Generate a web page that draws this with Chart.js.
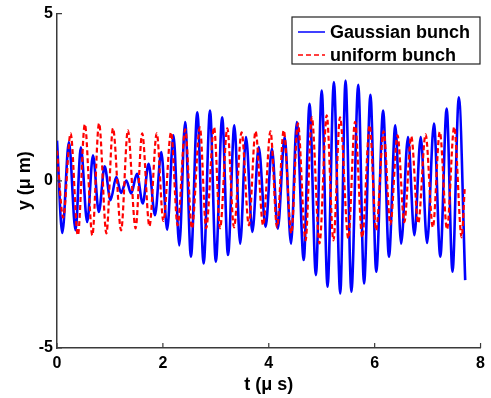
<!DOCTYPE html>
<html>
<head>
<meta charset="utf-8">
<script src="https://cdn.jsdelivr.net/npm/chart.js@4/dist/chart.umd.min.js"></script>
<style>
  html, body { margin: 0; padding: 0; background: #fff; }
  #wrap { width: 491px; height: 398px; }
</style>
</head>
<body>
<div id="wrap"><canvas id="c" width="491" height="398"></canvas></div>
<script>
// extrema (t in µs, y in µm)
const gaussT = [0, 0.10, 0.225, 0.35, 0.45, 0.57, 0.68, 0.79, 0.90, 1.01, 1.12, 1.21, 1.31, 1.40, 1.51, 1.62,
  1.73, 1.85, 1.97, 2.08, 2.20, 2.31, 2.42, 2.53, 2.65, 2.77, 2.89, 3.00, 3.12, 3.23, 3.35, 3.46,
  3.57, 3.69, 3.81, 3.94, 4.06, 4.17, 4.30, 4.42, 4.53, 4.66, 4.77, 4.89, 5.00, 5.11, 5.23, 5.35,
  5.45, 5.56, 5.69, 5.80, 5.92, 6.03, 6.16, 6.27, 6.39, 6.50, 6.63, 6.75, 6.87, 6.99, 7.12, 7.24,
  7.36, 7.47, 7.59, 7.71];
const gaussY = [1.2, -1.56, 1.16, -1.48, 1.0, -1.23, 0.76, -0.93, 0.43, -0.58, 0.11, -0.36, 0.01, -0.38, 0.21, -0.68,
  0.51, -1.03, 0.86, -1.46, 1.36, -1.93, 1.76, -2.27, 2.05, -2.47, 2.10, -2.42, 1.90, -2.22, 1.66, -1.88,
  1.31, -1.53, 1.01, -1.38, 0.96, -1.43, 1.31, -1.88, 1.76, -2.37, 2.30, -2.82, 2.70, -3.17, 2.95, -3.37,
  3.0, -3.32, 2.87, -3.07, 2.57, -2.72, 2.10, -2.27, 1.66, -1.88, 1.31, -1.63, 1.31, -1.86, 1.71, -2.27,
  2.16, -2.72, 2.50, -2.97];

const uniformT = [0, 0.118, 0.257, 0.394, 0.526, 0.667, 0.794, 0.933, 1.057, 1.211, 1.339, 1.484, 1.609, 1.746,
  1.884, 2.009, 2.154, 2.278, 2.423, 2.548, 2.699, 2.817, 2.967, 3.080, 3.217, 3.343, 3.487, 3.624,
  3.750, 3.893, 4.032, 4.156, 4.282, 4.426, 4.550, 4.695, 4.813, 4.958, 5.095, 5.221, 5.346, 5.503,
  5.628, 5.765, 5.906, 6.028, 6.169, 6.297, 6.432, 6.560, 6.691, 6.823, 6.962, 7.099, 7.230, 7.367,
  7.502, 7.643, 7.70];
const uniformY = [0.9, -1.1, 1.42, -1.63, 1.69, -1.63, 1.72, -1.57, 1.57, -1.48, 1.51, -1.42, 1.42, -1.36,
  1.42, -1.2, 1.45, -1.33, 1.54, -1.42, 1.60, -1.42, 1.60, -1.42, 1.57, -1.39, 1.45, -1.33,
  1.48, -1.33, 1.48, -1.39, 1.51, -1.57, 1.72, -1.78, 1.90, -1.87, 1.96, -1.78, 1.90, -1.72,
  1.76, -1.69, 1.66, -1.48, 1.48, -1.30, 1.36, -1.24, 1.33, -1.27, 1.39, -1.39, 1.46, -1.45,
  1.61, -1.69, -0.25];

const seriesLabels = ['Gaussian bunch', 'uniform bunch'];
const xTicks = [0, 2, 4, 6, 8];
const yTicks = [-5, 0, 5];

const axisColor = '#3a3a3a';
const tickFont = { family: 'Liberation Sans, Arial, sans-serif', size: 16, weight: 'bold' };
const titleFont = { family: 'Liberation Sans, Arial, sans-serif', size: 18, weight: 'bold' };

function toPoints(ts, ys) {
    return ts.map((t, i) => ({ x: t, y: ys[i] }));
}

// MATLAB style: short tick marks pointing into the plot
const innerTicks = {
    id: 'innerTicks',
    afterDatasetsDraw(chart) {
        const { ctx, chartArea, scales } = chart;
        ctx.save();
        ctx.strokeStyle = axisColor;
        ctx.lineWidth = 1.2;
        ctx.beginPath();
        for (const v of xTicks) {
            const px = scales.x.getPixelForValue(v);
            ctx.moveTo(px, chartArea.bottom);
            ctx.lineTo(px, chartArea.bottom - 5);
        }
        for (const v of yTicks) {
            const py = scales.y.getPixelForValue(v);
            ctx.moveTo(chartArea.left, py);
            ctx.lineTo(chartArea.left + 5, py);
        }
        ctx.stroke();
        ctx.restore();
    }
};

// boxed legend in the top right corner
const boxLegend = {
    id: 'boxLegend',
    afterDraw(chart) {
        const { ctx } = chart;
        const x0 = 292, y0 = 17, w = 188, h = 47;
        ctx.save();
        ctx.fillStyle = '#fff';
        ctx.fillRect(x0, y0, w, h);
        ctx.strokeStyle = '#222';
        ctx.lineWidth = 1.2;
        ctx.strokeRect(x0, y0, w, h);
        ctx.font = 'bold 18px "Liberation Sans", Arial, sans-serif';
        ctx.textBaseline = 'middle';
        chart.data.datasets.forEach((ds, i) => {
            const cy = y0 + 15 + i * 23;
            ctx.strokeStyle = ds.borderColor;
            ctx.lineWidth = 1.5;
            ctx.setLineDash(ds.borderDash || []);
            ctx.beginPath();
            ctx.moveTo(x0 + 6, cy);
            ctx.lineTo(x0 + 33, cy);
            ctx.stroke();
            ctx.setLineDash([]);
            ctx.fillStyle = '#000';
            ctx.fillText(ds.label, x0 + 38, cy + 1);
        });
        ctx.restore();
    }
};

new Chart(document.getElementById('c').getContext('2d'), {
    type: 'line',
    data: {
        datasets: [{
            label: seriesLabels[0],
            data: toPoints(gaussT, gaussY),
            borderColor: '#0000ff',
            borderWidth: 2.6,
            pointRadius: 0,
            cubicInterpolationMode: 'monotone',
            fill: false,
            order: 1
        }, {
            label: seriesLabels[1],
            data: toPoints(uniformT, uniformY),
            borderColor: '#ff0000',
            borderWidth: 2.2,
            borderDash: [5, 3],
            pointRadius: 0,
            cubicInterpolationMode: 'monotone',
            fill: false,
            order: 0
        }]
    },
    options: {
        responsive: false,
        animation: false,
        layout: { padding: { top: 13, right: 8, left: 0, bottom: 0 } },
        plugins: {
            legend: { display: false },
            tooltip: { enabled: false }
        },
        scales: {
            x: {
                type: 'linear',
                min: 0,
                max: 8,
                afterBuildTicks: (s) => { s.ticks = xTicks.map(v => ({ value: v })); },
                afterFit: (s) => { s.height = 50; },
                grid: { display: false, drawTicks: false, tickLength: 0 },
                border: { display: true, color: axisColor, width: 1.5 },
                ticks: { color: '#000', font: tickFont, padding: 6, maxRotation: 0 },
                title: { display: true, text: 't (\u03bc s)', color: '#000', font: titleFont, padding: { top: 0, bottom: 2 } }
            },
            y: {
                type: 'linear',
                min: -5,
                max: 5,
                afterBuildTicks: (s) => { s.ticks = yTicks.map(v => ({ value: v })); },
                afterFit: (s) => { s.width = 57; },
                grid: { display: false, drawTicks: false, tickLength: 0 },
                border: { display: true, color: axisColor, width: 1.5 },
                ticks: { color: '#000', font: tickFont, padding: 4 },
                title: { display: true, text: 'y (\u03bc m)', color: '#000', font: titleFont, padding: { top: 14, bottom: 0 } }
            }
        }
    },
    plugins: [innerTicks, boxLegend]
});
</script>
</body>
</html>
